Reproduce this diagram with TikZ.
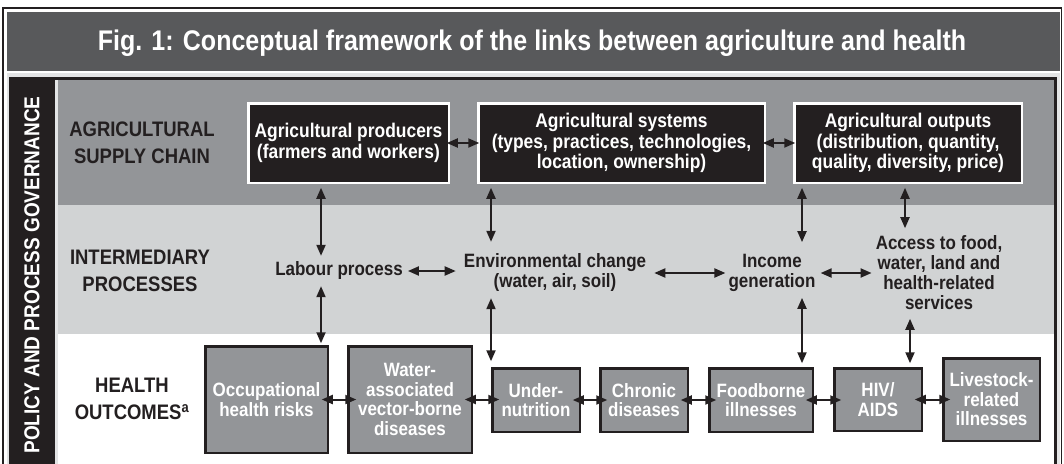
\documentclass[tikz,border=0pt]{standalone}
\usepackage{fontspec}
\setmainfont{Liberation Sans}[FakeStretch=0.88]
\usetikzlibrary{arrows.meta}

\begin{document}
\begin{tikzpicture}[x=1pt, y=-1pt, >={Triangle[length=11pt, width=9pt]},
    link/.style={<->, draw=ink, line width=2pt},
    rowlabel/.style={text=ink, align=center, inner sep=0pt,
      font=\fontsize{21}{27}\selectfont\bfseries},
    supplybox/.style={draw=white, fill=ink, text=white, line width=2.5pt,
      align=center, inner sep=0pt, outer sep=0pt, minimum height=79.5,
      font=\fontsize{19.8}{20.5}\selectfont\bfseries},
    process/.style={text=ink, align=center, inner sep=0pt,
      font=\fontsize{19.3}{20}\selectfont\bfseries},
    outcome/.style={draw=ink, fill=supplygrey, text=white, line width=2.5pt,
      align=center, inner sep=0pt, outer sep=0pt,
      font=\fontsize{19.3}{19.5}\selectfont\bfseries}]
  % Define colors
  \definecolor{ink}{HTML}{231F20}
  \definecolor{titlegrey}{HTML}{58595B}
  \definecolor{supplygrey}{HTML}{939598}
  \definecolor{midgrey}{HTML}{D1D3D4}
  \definecolor{rimgrey}{HTML}{E3E4E5}

  \useasboundingbox (0,0) rectangle (1064,463);
  \clip (0,0) rectangle (1064,463);

  % Frame, title band and the three row bands
  \fill[white] (0,0) rectangle (1064,463);
  \draw[ink, line width=1.5pt] (2.75,7.75) rectangle (1061.25,480);
  \fill[titlegrey] (6.5,11.5) rectangle (1059.5,71);
  \fill[rimgrey] (6.5,73) rectangle (1059.5,480);
  \fill[ink] (9,77) rectangle (1056.5,480);
  \fill[rimgrey] (55,79.5) rectangle (57.5,480);
  \fill[supplygrey] (57.5,79.5) rectangle (1054,205);
  \fill[midgrey] (57.5,205) rectangle (1054,334);
  \fill[white] (57.5,334) rectangle (1054,480);

  % Title
  \node[text=white, font=\fontsize{28.4}{30}\selectfont\bfseries] (title) at (532,43)
    {Fig. 1: Conceptual framework of the links between agriculture and health};

  % Governance strip
  \node[text=white, rotate=90, font=\fontsize{21.6}{22}\selectfont\bfseries] (gov) at (32,275)
    {POLICY AND PROCESS GOVERNANCE};

  % Row labels
  \node[rowlabel] (rowsupply) at (142,143) {AGRICULTURAL\\SUPPLY CHAIN};
  \node[rowlabel] (rowmid) at (140,271) {INTERMEDIARY\\PROCESSES};
  \node[rowlabel] (rowhealth) at (132,399) {HEALTH\\OUTCOMES\textsuperscript{a}};

  % Supply chain boxes
  \node[supplybox, minimum width=200.5] (prod) at (348.5,143)
    {Agricultural producers\\(farmers and workers)};
  \node[supplybox, minimum width=286.5] (sys) at (621.5,143)
    {Agricultural systems\\(types, practices, technologies,\\location, ownership)};
  \node[supplybox, minimum width=227.5] (outp) at (908,143)
    {Agricultural outputs\\(distribution, quantity,\\quality, diversity, price)};

  % Intermediary processes
  \node[process] (labour) at (339,271) {Labour process};
  \node[process] (env) at (555,273) {Environmental change\\(water, air, soil)};
  \node[process] (income) at (772,273) {Income\\generation};
  \node[process] (access) at (939,272.5) {Access to food,\\water, land and\\health-related\\services};

  % Health outcomes
  \node[outcome, minimum width=122.5, minimum height=106.5] (occ) at (266.5,399.5)
    {Occupational\\health risks};
  \node[outcome, minimum width=123.5, minimum height=106.5] (water) at (410,399.5)
    {Water-\\associated\\vector-borne\\diseases};
  \node[outcome, minimum width=87.5, minimum height=63.5] (under) at (536,400)
    {Under-\\nutrition};
  \node[outcome, minimum width=87.5, minimum height=63.5] (chronic) at (644,400)
    {Chronic\\diseases};
  \node[outcome, minimum width=103.5, minimum height=63.5] (food) at (761,400)
    {Foodborne\\illnesses};
  \node[outcome, minimum width=87.5, minimum height=62.5] (hiv) at (878,399.5)
    {HIV/\\AIDS};
  \node[outcome, minimum width=96.5, minimum height=82.5] (live) at (991.5,399.5)
    {Livestock-\\related\\illnesses};

  % Columns of the vertical links
  \coordinate (c1) at (321,0);
  \coordinate (c2) at (491,0);
  \coordinate (c3) at (802,0);
  \coordinate (c4) at (905,0);
  \coordinate (c5) at (910,0);

  % Links along the supply chain
  \draw[link, shorten <=-2pt, shorten >=-1pt] (prod.east) -- (sys.west);
  \draw[link, shorten <=-2pt, shorten >=-1pt] (sys.east) -- (outp.west);

  % Links down to the intermediary processes
  \draw[link, shorten <=5pt, shorten >=6pt] (prod.south -| c1) -- (labour.north -| c1);
  \draw[link, shorten <=5pt, shorten >=12pt] (sys.south -| c2) -- (env.north -| c2);
  \draw[link, shorten <=5pt, shorten >=12pt] (outp.south -| c3) -- (income.north -| c3);
  \draw[link, shorten <=5pt, shorten >=7pt] (outp.south -| c4) -- (access.north -| c4);

  % Links across the intermediary processes
  \draw[link, shorten <=5pt, shorten >=8pt] (labour.east) -- (labour.east -| env.west);
  \draw[link, shorten <=8pt, shorten >=3pt] (env.east) -- (income.west);
  \draw[link, shorten <=5pt, shorten >=4pt] (income.east) -- (income.east -| access.west);

  % Links down to the health outcomes
  \draw[link, shorten <=6pt, shorten >=3pt] (labour.south -| c1) -- (occ.north -| c1);
  \draw[link, shorten <=6pt, shorten >=7pt] (env.south -| c2) -- (under.north -| c2);
  \draw[link, shorten <=6pt, shorten >=5pt] (income.south -| c3) -- (food.north -| c3);
  \draw[link, shorten <=9pt, shorten >=5pt] (access.south -| c5) -- (hiv.north -| c5);

  % Links along the health outcomes
  \draw[link, shorten <=-6pt, shorten >=-8pt] (occ.east) -- (occ.east -| water.west);
  \draw[link, shorten <=-7pt, shorten >=-7pt] (water.east) -- (water.east -| under.west);
  \draw[link, shorten <=-7pt, shorten >=-7pt] (under.east) -- (chronic.west);
  \draw[link, shorten <=-7pt, shorten >=-7pt] (chronic.east) -- (food.west);
  \draw[link, shorten <=-7pt, shorten >=-7pt] (food.east) -- (food.east -| hiv.west);
  \draw[link, shorten <=-7pt, shorten >=-7pt] (hiv.east) -- (hiv.east -| live.west);
\end{tikzpicture}
\end{document}
